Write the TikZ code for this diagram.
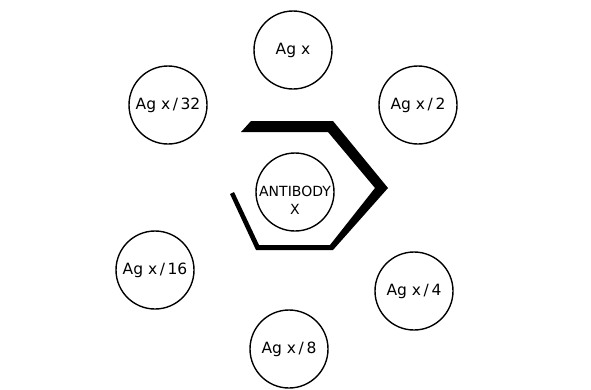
\documentclass[tikz,border=0pt]{standalone}
\usepackage{fontspec}
\setmainfont{DejaVu Sans}

\tikzset{
  dil/.style={circle, draw, line width=1.4pt, minimum size=78pt, inner sep=0pt,
              font=\fontsize{15.5}{18}\selectfont},
}

\begin{document}
\begin{tikzpicture}[x=1pt, y=-1pt]

  % --- 1. 枠 ---
  \useasboundingbox (0,0) rectangle (591,389);

  % --- 2. 中央の抗体 ---
  \node[dil] (antibody) at (295,192) {};
  \node[align=center, font=\fontsize{14}{18}\selectfont] (abtext) at (295,200) {ANTIBODY\\X};

  % --- 3. 六角形 (太さが不均一な開いた枠) ---
  \fill[black] (251,121) -- (333,121) -- (388,188) -- (333,250) -- (256,250)
    -- (230,194) -- (234,192) -- (259,245) -- (330,245) -- (375,188)
    -- (328,132) -- (241,132) -- cycle;

  % --- 4. 希釈した抗原 ---
  \node[dil] (agx)   at (293,50)  {Ag x};
  \node[dil] (agx2)  at (418,105) {Ag x\,/\,2};
  \node[dil] (agx4)  at (414,291) {Ag x\,/\,4};
  \node[dil] (agx8)  at (289,349) {Ag x\,/\,8};
  \node[dil] (agx16) at (155,270) {Ag x\,/\,16};
  \node[dil] (agx32) at (168,105) {Ag x\,/\,32};

\end{tikzpicture}
\end{document}
